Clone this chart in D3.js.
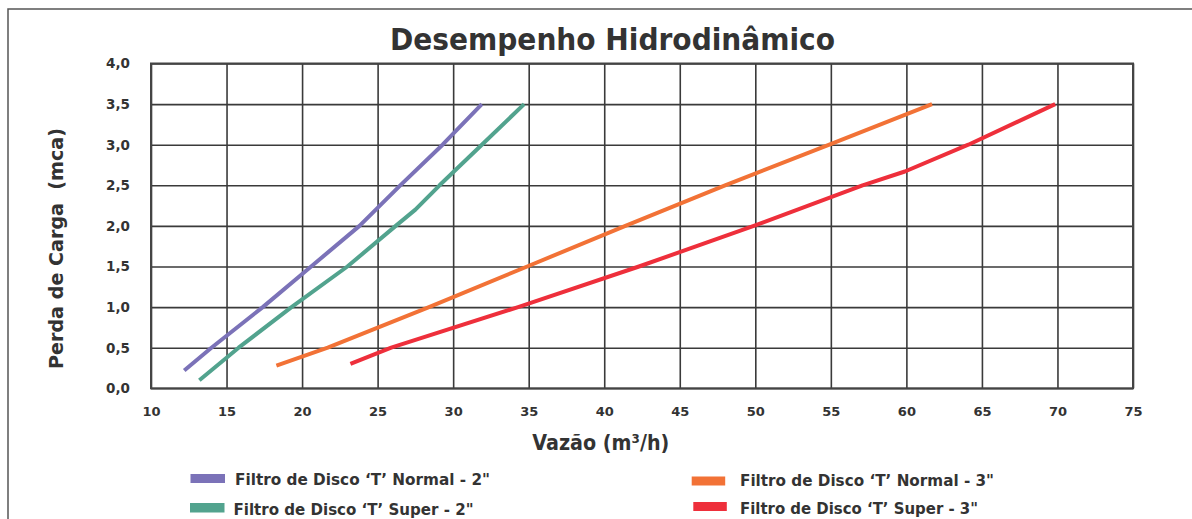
<!DOCTYPE html>
<html>
<head>
<meta charset="utf-8">
<script src="https://cdn.jsdelivr.net/npm/d3@7"></script>
<style>
  html, body { margin: 0; padding: 0; background: #fff; }
  svg { display: block; }
  text { font-family: "DejaVu Sans", sans-serif; font-weight: bold; fill: #333; }
</style>
</head>
<body>
<svg id="chart" width="1192" height="519"></svg>
<script>
// ---- data ----
const titleText = "Desempenho Hidrodinâmico";
const xTitle = "Vazão (m³/h)";
const yTitle = "Perda de Carga  (mca)";
const xTicks = [10, 15, 20, 25, 30, 35, 40, 45, 50, 55, 60, 65, 70, 75];
const yTicks = [0, 0.5, 1.0, 1.5, 2.0, 2.5, 3.0, 3.5, 4.0];

const seriesNames = [
  "Filtro de Disco ‘T’ Normal - 2\"",
  "Filtro de Disco ‘T’ Super - 2\"",
  "Filtro de Disco ‘T’ Normal - 3\"",
  "Filtro de Disco ‘T’ Super - 3\""
];
const seriesColors = ["#7b72b8", "#52a38e", "#f27236", "#ee2f3b"];

const normal2X = [12.2, 14.0, 17.4, 20.6, 23.8, 26.5, 29.3, 31.9];
const normal2Y = [0.22, 0.5, 1.0, 1.5, 2.0, 2.5, 3.0, 3.5];
const super2X  = [13.2, 15.8, 19.3, 23.0, 26.2, 27.5, 29.1, 31.9, 34.7];
const super2Y  = [0.10, 0.5, 1.0, 1.5, 2.0, 2.2, 2.5, 3.0, 3.5];
const normal3X = [18.3, 21.7, 28.4, 34.9, 41.4, 48.0, 54.9, 61.7];
const normal3Y = [0.28, 0.5, 1.0, 1.5, 2.0, 2.5, 3.0, 3.5];
const super3X  = [23.2, 25.9, 34.3, 42.3, 49.9, 57.1, 59.9, 64.1, 69.85];
const super3Y  = [0.30, 0.5, 1.0, 1.5, 2.0, 2.5, 2.67, 3.0, 3.5];

const seriesX = [normal2X, super2X, normal3X, super3X];
const seriesY = [normal2Y, super2Y, normal3Y, super3Y];

// ---- layout ----
const svg = d3.select("#chart");
const plot = { left: 151, right: 1133, top: 63.5, bottom: 388.3 };
const W = plot.right - plot.left, H = plot.bottom - plot.top;

const x = d3.scaleLinear().domain([10, 75]).range([plot.left, plot.right]);
const y = d3.scaleLinear().domain([0, 4]).range([plot.bottom, plot.top]);
const fmtY = v => d3.format(".1f")(v).replace(".", ",");

// outer frame (top and left edges visible)
svg.append("rect")
  .attr("x", 8).attr("y", 9).attr("width", 1400).attr("height", 800)
  .attr("fill", "none").attr("stroke", "#555").attr("stroke-width", 1.5);

// title
svg.append("text").attr("x", 612.5).attr("y", 50)
  .attr("text-anchor", "middle").attr("font-size", 30)
  .attr("textLength", 445).attr("lengthAdjust", "spacingAndGlyphs")
  .text(titleText);

// grid + axes
const gx = svg.append("g").attr("transform", `translate(0,${plot.bottom})`)
  .call(d3.axisBottom(x).tickValues(xTicks).tickSizeInner(-H).tickSizeOuter(0).tickPadding(18).tickFormat(d3.format("d")));
const gy = svg.append("g").attr("transform", `translate(${plot.left},0)`)
  .call(d3.axisLeft(y).tickValues(yTicks).tickSizeInner(-W).tickSizeOuter(0).tickPadding(21).tickFormat(fmtY));
[gx, gy].forEach(g => {
  g.select(".domain").remove();
  g.selectAll(".tick line").attr("stroke", "#3a3a3a").attr("stroke-width", 1.6);
  g.selectAll(".tick text").attr("font-size", 13).attr("fill", "#333")
    .style("font-family", "DejaVu Sans, sans-serif").style("font-weight", "bold");
});
gy.selectAll(".tick text").attr("font-size", 13.5);

// plot border
svg.append("rect").attr("x", plot.left).attr("y", plot.top).attr("width", W).attr("height", H)
  .attr("fill", "none").attr("stroke", "#444").attr("stroke-width", 2);

// series lines
const line = d3.line().x(d => x(d[0])).y(d => y(d[1]));
seriesX.forEach((xs, i) => {
  const pts = xs.map((v, j) => [v, seriesY[i][j]]);
  svg.append("path").datum(pts)
    .attr("d", line).attr("fill", "none")
    .attr("stroke", seriesColors[i]).attr("stroke-width", 4)
    .attr("stroke-linejoin", "round").attr("stroke-linecap", "butt");
});

// axis titles
svg.append("text").attr("x", 600.8).attr("y", 450)
  .attr("text-anchor", "middle").attr("font-size", 21)
  .attr("textLength", 137).attr("lengthAdjust", "spacingAndGlyphs")
  .text(xTitle);
svg.append("text").attr("transform", "translate(63,248.5) rotate(-90)")
  .attr("text-anchor", "middle").attr("font-size", 20)
  .style("white-space", "pre")
  .attr("textLength", 241).attr("lengthAdjust", "spacingAndGlyphs")
  .text(yTitle);

// legend
const legendLayout = [
  { sx: 190.5, sy: 474, sw: 34.5, sh: 9, tx: 235, ty: 485, tl: 255 },
  { sx: 190, sy: 503, sw: 34.5, sh: 9.5, tx: 233.5, ty: 515, tl: 240 },
  { sx: 691.7, sy: 476.5, sw: 33.5, sh: 9, tx: 740, ty: 485.5, tl: 254 },
  { sx: 693.3, sy: 502, sw: 33.5, sh: 9, tx: 740, ty: 513.5, tl: 238 }
];
seriesNames.forEach((name, i) => {
  const L = legendLayout[i];
  svg.append("rect").attr("x", L.sx).attr("y", L.sy).attr("width", L.sw).attr("height", L.sh)
    .attr("fill", seriesColors[i]);
  svg.append("text").attr("x", L.tx).attr("y", L.ty).attr("font-size", 16.5)
    .attr("textLength", L.tl).attr("lengthAdjust", "spacingAndGlyphs")
    .text(name);
});
</script>
</body>
</html>
